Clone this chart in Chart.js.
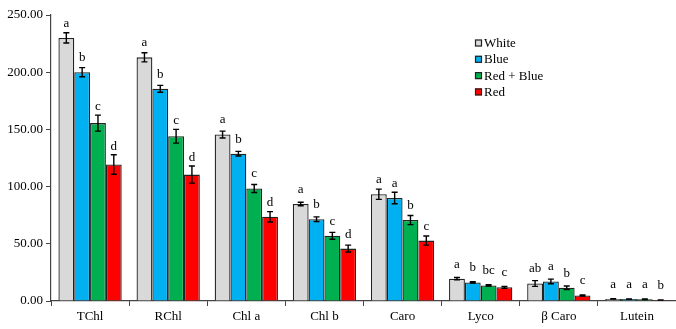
<!DOCTYPE html>
<html>
<head>
<meta charset="utf-8">
<script src="https://cdn.jsdelivr.net/npm/chart.js@4.4.0/dist/chart.umd.min.js"></script>
<style>
html,body{margin:0;padding:0;background:#fff;}
#wrap{width:676px;height:329px;position:relative;}
</style>
</head>
<body>
<div id="wrap"><canvas id="c" width="676" height="329"></canvas></div>
<script>
const categories = ['TChl','RChl','Chl a','Chl b','Caro','Lyco','\u03b2 Caro','Lutein'];
const seriesNames = ['White','Blue','Red + Blue','Red'];
const whiteVals = [230, 213, 145.5, 84.8, 93.3, 19.5, 15.3, 1.8];
const blueVals  = [200, 185.5, 128.8, 71.5, 90, 16.2, 17.1, 1.7];
const rbVals    = [155.5, 144, 98.3, 57, 70.8, 13.6, 11.6, 1.5];
const redVals   = [119.3, 110.5, 73.6, 45.8, 52.8, 12, 4.8, 0.9];
const whiteErr = [4.5, 4, 3, 1.5, 4.5, 1, 2.5, 0.2];
const blueErr  = [4, 3, 2, 2, 5, 0.6, 2, 0.2];
const rbErr    = [7, 6, 3.5, 3, 4, 0.6, 1.5, 0.2];
const redErr   = [8.5, 7.5, 4.5, 3, 4, 0.8, 0.5, 0.1];
const whiteLetters = ['a','a','a','a','a','a','ab','a'];
const blueLetters  = ['b','b','b','b','a','b','a','a'];
const rbLetters    = ['c','c','c','c','b','bc','b','a'];
const redLetters   = ['d','d','d','d','c','c','c','b'];
const yTicks = [0, 50, 100, 150, 200, 250];

const colors = ['#d9d9d9','#00b0f0','#00b050','#ff0000'];
const allVals = [whiteVals, blueVals, rbVals, redVals];
const allErr = [whiteErr, blueErr, rbErr, redErr];
const allLetters = [whiteLetters, blueLetters, rbLetters, redLetters];
const FONT = '"Liberation Serif", "Times New Roman", serif';

const errPlugin = {
  id: 'errbars',
  afterDatasetsDraw(chart) {
    const ctx = chart.ctx;
    const y = chart.scales.y;
    ctx.save();
    chart.data.datasets.forEach((ds, di) => {
      const meta = chart.getDatasetMeta(di);
      meta.data.forEach((bar, i) => {
        const v = ds.data[i], e = allErr[di][i];
        const x = bar.x;
        const yt = y.getPixelForValue(v + e);
        const yb = y.getPixelForValue(v - e);
        ctx.strokeStyle = '#000';
        ctx.lineWidth = 1.4;
        ctx.beginPath();
        ctx.moveTo(x, yt); ctx.lineTo(x, yb);
        ctx.moveTo(x - 3, yt); ctx.lineTo(x + 3, yt);
        ctx.moveTo(x - 3, yb); ctx.lineTo(x + 3, yb);
        ctx.stroke();
        ctx.fillStyle = '#000';
        ctx.font = '13px ' + FONT;
        ctx.textAlign = 'center';
        ctx.textBaseline = 'bottom';
        const ly = Math.min(yt - 2, y.getPixelForValue(v) - 8);
        ctx.fillText(allLetters[di][i], x, ly);
      });
    });
    // legend
    const lx = 475, ly0 = 43, dy = 16.3;
    ctx.font = '13px ' + FONT;
    ctx.textAlign = 'left';
    ctx.textBaseline = 'middle';
    seriesNames.forEach((n, i) => {
      const cy = ly0 + i * dy;
      ctx.fillStyle = colors[i];
      ctx.fillRect(lx, cy - 3.5, 7, 7);
      ctx.strokeStyle = '#222';
      ctx.lineWidth = 1.2;
      ctx.strokeRect(lx + 0.5, cy - 3, 6, 6);
      ctx.fillStyle = '#000';
      ctx.fillText(n, lx + 9, cy + 0.5);
    });
    ctx.restore();
  }
};

new Chart(document.getElementById('c'), {
  type: 'bar',
  data: {
    labels: categories,
    datasets: allVals.map((vals, i) => ({
      label: seriesNames[i],
      data: vals,
      backgroundColor: colors[i],
      borderColor: '#222',
      borderWidth: 1.3,
      categoryPercentage: 0.81,
      barPercentage: 1.0
    }))
  },
  options: {
    responsive: false,
    animation: false,
    layout: { padding: { top: 15, right: 0, bottom: 0, left: 0 } },
    plugins: { legend: { display: false }, tooltip: { enabled: false } },
    scales: {
      x: {
        grid: { drawOnChartArea: false, offset: true, tickLength: 5, color: '#444', tickColor: '#444' },
        border: { color: '#444', width: 1.2 },
        ticks: { color: '#000', font: { family: FONT, size: 13 }, padding: 3, maxRotation: 0 },
        afterFit(s) { s.height = 28; }
      },
      y: {
        min: 0, max: 250,
        afterBuildTicks(s) { s.ticks = yTicks.map(v => ({ value: v })); },
        grid: { drawOnChartArea: false, tickLength: 5, color: '#444', tickColor: '#444' },
        border: { color: '#444', width: 1.2 },
        ticks: { color: '#000', font: { family: FONT, size: 13 }, padding: 3,
                 callback: v => Number(v).toFixed(2) },
        afterFit(s) { s.width = 51; }
      }
    }
  },
  plugins: [errPlugin]
});
</script>
</body>
</html>
